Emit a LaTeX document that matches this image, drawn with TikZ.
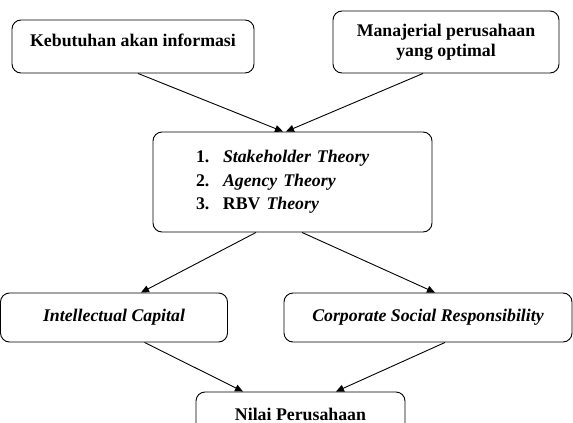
\documentclass[tikz,border=0pt]{standalone}
\usepackage{fontspec}
\setmainfont{Liberation Serif}
\usetikzlibrary{arrows.meta, positioning, calc}

\begin{document}
\begin{tikzpicture}[x=1pt, y=-1pt,
    box/.style={draw, line width=0.9pt, rounded corners=9pt, align=center,
      font=\fontsize{17.8}{20}\selectfont\bfseries, inner sep=0pt},
    arr/.style={-{Triangle[length=8pt, width=7pt]}, line width=0.9pt}]
  \useasboundingbox (0,0) rectangle (573,423);
  % top boxes
  \node[box, minimum width=242, minimum height=53, text height=12pt, text depth=13pt]
    (kebutuhan) at (133,46.5) {Kebutuhan akan informasi};
  \node[box, minimum width=226, minimum height=62]
    (manajerial) at (446,42) {Manajerial perusahaan\\yang optimal};
  % theories
  \node[box, minimum width=279, minimum height=100, text width=193pt, inner xsep=43pt,
    align=left, font=\fontsize{17.8}{23.5}\selectfont\bfseries]
    (teori) at (292.5,182)
    {\makebox[27pt][l]{1.}\textit{Stakeholder Theory}\\
     \makebox[27pt][l]{2.}\textit{Agency Theory}\\
     \makebox[27pt][l]{3.}RBV \textit{Theory}};
  % variables
  \node[box, minimum width=227, minimum height=49, font=\fontsize{17.8}{20}\selectfont\bfseries\itshape]
    (ic) at (114,317.5) {Intellectual Capital};
  \node[box, minimum width=288, minimum height=49, font=\fontsize{17.8}{20}\selectfont\bfseries\itshape]
    (csr) at (428,317.5) {Corporate Social Responsibility};
  \node[box, minimum width=209, minimum height=44]
    (nilai) at (300.5,414) {Nilai Perusahaan};
  % arrows
  \draw[arr] ([xshift=5pt]kebutuhan.south) -- ([xshift=-9.5pt]teori.north);
  \draw[arr] ([xshift=-23pt]manajerial.south) -- ([xshift=-6.5pt]teori.north);
  \draw[arr] ([xshift=-36.5pt]teori.south) -- ([xshift=27pt]ic.north);
  \draw[arr] ([xshift=9.5pt]teori.south) -- ([xshift=7pt]csr.north);
  \draw[arr] ([xshift=30.5pt]ic.south) -- ([xshift=-57.5pt]nilai.north);
  \draw[arr] ([xshift=17pt]csr.south) -- ([xshift=35.5pt]nilai.north);
\end{tikzpicture}
\end{document}
